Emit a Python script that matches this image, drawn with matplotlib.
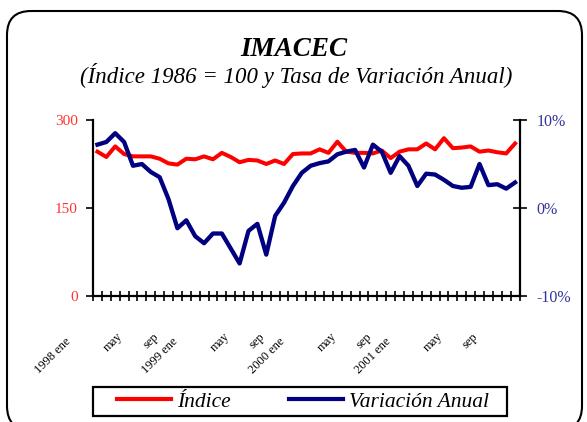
import matplotlib
matplotlib.use('Agg')
import matplotlib.pyplot as plt
from matplotlib.patches import FancyBboxPatch, Rectangle
from matplotlib.lines import Line2D
import matplotlib.transforms as mtransforms
import numpy as np

plt.rcParams['font.family'] = ['Liberation Serif', 'DejaVu Serif']

# --- datos (mensuales, 1998 ene - 2001 dic) ---
indice = [246, 237, 255, 242, 238, 238, 238, 234, 226, 224, 234, 233,
          238, 233, 244, 237, 228, 232, 231, 225, 231, 225, 242, 243,
          243, 250, 244, 263, 246, 244, 244, 243, 248, 235, 246, 250,
          250, 260, 250, 269, 252, 253, 255, 246, 248, 245, 243, 260]
variacion = [7.2, 7.5, 8.5, 7.5, 4.8, 5.0, 4.1, 3.5, 1.0, -2.3, -1.4, -3.2,
             -4.0, -2.9, -2.9, -4.6, -6.3, -2.6, -1.8, -5.3, -0.9, 0.6, 2.5, 4.0,
             4.8, 5.1, 5.3, 6.1, 6.4, 6.6, 4.6, 7.2, 6.4, 4.0, 5.9, 4.8,
             2.5, 3.9, 3.8, 3.2, 2.5, 2.3, 2.4, 5.0, 2.6, 2.7, 2.2, 2.9]
etiquetas_x = ['1998 ene', 'may', 'sep', '1999 ene', 'may', 'sep',
               '2000 ene', 'may', 'sep', '2001 ene', 'may', 'sep']
ticks_izq = [0, 150, 300]
ticks_der = [-10, 0, 10]

c_rojo = '#ff0000'
c_azul = '#000080'

W, H = 587, 422
fig = plt.figure(figsize=(W / 100, H / 100), dpi=100)

# marco redondeado exterior (pixeles)
marco = FancyBboxPatch((7, -8), 575, 419, boxstyle='round,pad=0,rounding_size=24',
                       transform=None, fill=False, edgecolor='black',
                       linewidth=1.5, zorder=0)
fig.patches.append(marco)

ax = fig.add_axes([93 / W, 1 - 296 / H, (519.5 - 93) / W, 176 / H])
ax.set_facecolor('none')
ax2 = ax.twinx()

x = np.arange(len(indice))
ax.plot(x, indice, color=c_rojo, linewidth=2.9, solid_joinstyle='round', zorder=3)
ax2.plot(x, variacion, color=c_azul, linewidth=3.1, solid_joinstyle='round', zorder=3)

ax.set_xlim(-0.5, len(x) - 0.5)
ax.set_ylim(0, 300)
ax2.set_ylim(-10, 10)

for a in (ax, ax2):
    a.spines['top'].set_visible(False)
    for s in ('left', 'right', 'bottom'):
        a.spines[s].set_linewidth(1.6)
ax.spines['right'].set_visible(False)
ax2.spines['left'].set_visible(False)
ax2.spines['bottom'].set_visible(False)

# eje izquierdo
ax.set_yticks(ticks_izq)
ax.set_yticklabels([str(v) for v in ticks_izq])
ax.tick_params(axis='y', direction='out', length=5, width=1.2, pad=6,
               labelsize=11, labelcolor='#ff3333')

# eje derecho
ax2.set_yticks(ticks_der)
ax2.set_yticklabels([f'{v}%' for v in ticks_der])
ax2.tick_params(axis='y', direction='inout', length=10, width=1.2, pad=7,
                labelsize=11.5, labelcolor='#333399')

# eje x: marcas entre categorias, etiquetas cada 4 meses
ax.set_xticks(np.arange(-0.5, len(x)), minor=True)
ax.tick_params(axis='x', which='minor', direction='inout', length=7, width=1.2)
pos_lab = np.arange(0, len(x), 4)
ax.set_xticks(pos_lab)
ax.set_xticklabels(etiquetas_x, rotation=45, ha='right', va='center',
                   rotation_mode='anchor', fontsize=9)
ax.tick_params(axis='x', which='major', length=0, pad=0)
for lab in ax.get_xticklabels():
    if len(lab.get_text()) > 4:
        dx, dy = -28, -44
    else:
        dx, dy = -12, -39
    off = mtransforms.ScaledTranslation(dx / 100, dy / 100, fig.dpi_scale_trans)
    lab.set_transform(lab.get_transform() + off)

# titulos
fig.text(294 / W, 1 - 49 / H, 'IMACEC', ha='center', va='center',
         fontsize=19.5, fontweight='bold', fontstyle='italic')
fig.text(296 / W, 1 - 75 / H, '(Índice 1986 = 100 y Tasa de Variación Anual)',
         ha='center', va='center', fontsize=16.5, fontstyle='italic')

# leyenda
fig.patches.append(Rectangle((93, H - 416), 414, 29, transform=None, fill=False,
                             edgecolor='black', linewidth=1.6, zorder=5))
handles = [Line2D([], [], color=c_rojo, linewidth=3),
           Line2D([], [], color=c_azul, linewidth=3)]
fig.legend(handles, ['Índice', 'Variación Anual'], loc='center left',
           bbox_to_anchor=(117 / W, 1 - 401.5 / H), ncol=2, frameon=False,
           borderpad=0, borderaxespad=0, handlelength=2.5, handletextpad=0.3,
           columnspacing=2.7, prop={'size': 15.5, 'style': 'italic'})

fig.savefig('out.png', dpi=100)
